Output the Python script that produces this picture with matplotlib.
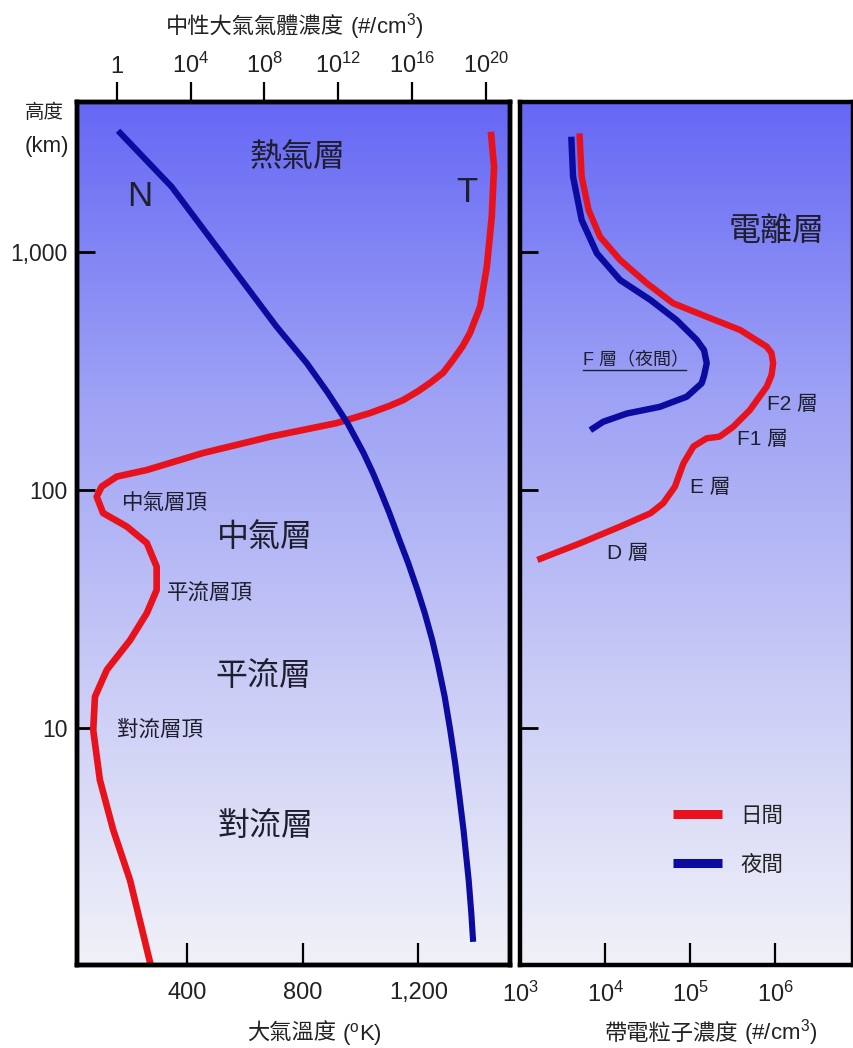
import numpy as np
import matplotlib
matplotlib.use("Agg")
import matplotlib.pyplot as plt
from matplotlib import font_manager
from matplotlib.colors import LinearSegmentedColormap
from matplotlib.ticker import NullLocator
from matplotlib.lines import Line2D

# ---------------------------------------------------------------- fonts
_names = {f.name for f in font_manager.fontManager.ttflist}
LATIN = "Liberation Sans Narrow" if "Liberation Sans Narrow" in _names else "Liberation Sans"
CJK = "Noto Sans CJK TC"
plt.rcParams["font.family"] = [LATIN, CJK, "DejaVu Sans"]
plt.rcParams["mathtext.fontset"] = "custom"
plt.rcParams["mathtext.rm"] = LATIN
plt.rcParams["mathtext.it"] = LATIN
plt.rcParams["mathtext.bf"] = LATIN
plt.rcParams["mathtext.default"] = "rm"

# ---------------------------------------------------------------- data
# atmospheric temperature profile (altitude km, temperature K)
temp_alt_km = [1.0, 2.29, 3.72, 6.03, 9.77, 13.5, 17.5, 23.3, 30.3, 37.9, 47.5,
               59.7, 70, 79.8, 93.5, 103, 113.5, 121, 142.6, 167, 190.6, 210,
               225, 238, 260, 281, 310, 351, 400, 456, 587, 865, 1403, 2270, 3190]
temp_K = [276, 204, 146, 100, 77, 83, 124, 204, 262, 296, 296,
          262, 193, 111, 89, 106, 158, 262, 456, 688, 918, 1033,
          1100, 1147, 1200, 1240, 1285, 1319, 1352, 1378, 1413, 1436, 1453, 1461, 1450]

# neutral gas number density (altitude km, #/cm^3)
dens_alt_km = [3222, 1871, 923, 484, 340, 255, 190.6, 142.6, 117, 96.8, 79.8,
               61.5, 49.2, 37.9, 30.3, 23.4, 18.7, 13.5, 9.77, 7.13, 5.12,
               3.72, 2.29, 1.67, 1.26]
dens_per_cm3 = [1.17, 9.55e2, 8.9e5, 4.6e8, 2.0e10, 2.8e11, 3.2e12, 2.4e13,
                7.9e13, 2.2e14, 6.0e14, 2.1e15, 6.3e15, 2.0e16, 5.0e16,
                1.26e17, 2.5e17, 6.0e17, 1.2e18, 2.2e18, 3.8e18, 6.3e18,
                1.2e19, 1.66e19, 2.1e19]

# ionospheric electron density, daytime
day_alt_km = [3141, 2065, 1496, 1156, 923, 736, 607, 533, 469, 399, 375, 340,
              303, 271, 216, 184, 167, 164.5, 152, 129, 103, 87.7, 79.6, 70,
              59.6, 50.7]
day_ne = [5.0e3, 5.3e3, 6.4e3, 8.7e3, 1.5e4, 3.1e4, 6.3e4, 1.56e5, 3.85e5,
          7.9e5, 9.0e5, 9.4e5, 9.0e5, 7.9e5, 5.0e5, 3.2e5, 2.2e5, 1.56e5,
          1.09e5, 8.3e4, 6.6e4, 4.8e4, 3.4e4, 1.5e4, 5.1e3, 1.6e3]

# ionospheric electron density, night-time
night_alt_km = [3042, 2065, 1359, 984, 760, 627, 516, 426, 386, 340, 301, 280,
                246, 223, 209, 193, 178]
night_ne = [4.0e3, 4.2e3, 5.3e3, 8.0e3, 1.5e4, 3.4e4, 6.9e4, 1.19e5, 1.45e5,
            1.56e5, 1.45e5, 1.36e5, 9.1e4, 4.4e4, 1.8e4, 9.5e3, 6.7e3]

alt_ticks = [10, 100, 1000]
alt_ticklabels = ["10", "100", "1,000"]
temp_ticks = [400, 800, 1200]
temp_ticklabels = ["400", "800", "1,200"]
dens_ticks = [1, 1e4, 1e8, 1e12, 1e16, 1e20]
dens_ticklabels = ["1"] + [r"$\mathdefault{10^{%d}}$" % p for p in (4, 8, 12, 16, 20)]
ne_ticks = [1e3, 1e4, 1e5, 1e6]
ne_ticklabels = [r"$\mathdefault{10^{%d}}$" % p for p in (3, 4, 5, 6)]

# ---------------------------------------------------------------- style
RED = "#E8121C"
BLUE = "#0B0BA0"
INK = "#1e1e2e"
TICK_INK = "#222222"
SPINE_W = 3.2

W, H = 854, 1048
fig = plt.figure(figsize=(W / 100, H / 100), dpi=100)


def rect(x0, x1, y0, y1):
    return [x0 / W, (H - y1) / H, (x1 - x0) / W, (y1 - y0) / H]


left_rect = rect(77, 510, 102, 965)
right_rect = rect(520, 853, 102, 965)

sky = LinearSegmentedColormap.from_list(
    "sky", ["#F0F1F8", "#C9CBF6", "#9DA1F4", "#6668F4"])
grad = np.linspace(0, 1, 256).reshape(-1, 1)
for r in (left_rect, right_rect):
    bg = fig.add_axes(r, zorder=0)
    bg.imshow(grad, cmap=sky, origin="lower", aspect="auto",
              extent=[0, 1, 0, 1], interpolation="bicubic")
    bg.set_axis_off()

ylim = (10 ** 0.003, 10 ** 3.629)

# ---------------------------------------------------------------- left panel
ax = fig.add_axes(left_rect, zorder=1)
ax.patch.set_visible(False)
ax.set_yscale("log")
ax.set_xlim(21, 1516)
ax.set_ylim(*ylim)
ax.plot(temp_K, temp_alt_km, color=RED, lw=4.8,
        solid_joinstyle="round", solid_capstyle="butt")

ax.set_yticks(alt_ticks, alt_ticklabels)
ax.yaxis.set_minor_locator(NullLocator())
ax.set_xticks(temp_ticks, temp_ticklabels)
ax.tick_params(axis="y", direction="in", length=13, width=2, pad=7,
               labelsize=16.5, colors="black", labelcolor=TICK_INK)
ax.tick_params(axis="x", direction="in", length=15.5, width=1.6, pad=12,
               labelsize=17, colors="black", labelcolor=TICK_INK)

ax_top = ax.twiny()
ax_top.set_xscale("log")
ax_top.set_xlim(10 ** -2.16, 10 ** 21.32)
ax_top.plot(dens_per_cm3, dens_alt_km, color=BLUE, lw=4.4,
            solid_joinstyle="round", solid_capstyle="butt")
ax_top.set_xticks(dens_ticks, dens_ticklabels)
ax_top.xaxis.set_minor_locator(NullLocator())
ax_top.tick_params(axis="x", direction="out", length=14.5, width=1.6, pad=3,
                   labelsize=17, colors="black", labelcolor=TICK_INK)

for a in (ax, ax_top):
    for s in a.spines.values():
        s.set_linewidth(SPINE_W)
        s.set_color("black")

ax.text(-0.12, 0.988, "高度", transform=ax.transAxes, ha="left", va="center",
        fontsize=14, color=TICK_INK)
ax.text(-0.12, 0.949, "(km)", transform=ax.transAxes, ha="left", va="center",
        fontsize=16, color=TICK_INK)

big = dict(fontsize=23, color=INK, ha="center", va="center")
small = dict(fontsize=15.5, color=INK, ha="left", va="center")
ax.text(784, 2478, "熱氣層", **big)
ax.text(671, 62.7, "中氣層", **big)
ax.text(663, 16.3, "平流層", **big)
ax.text(671, 3.82, "對流層", **big)
ax.text(176, 87.7, "中氣層頂", **small)
ax.text(332, 36.8, "平流層頂", **small)
ax.text(159, 9.77, "對流層頂", **small)
ax.text(239, 1698, "N", fontsize=25, color=INK, ha="center", va="center")
ax.text(1368, 1766, "T", fontsize=25, color=INK, ha="center", va="center")

# ---------------------------------------------------------------- right panel
axr = fig.add_axes(right_rect, zorder=1)
axr.patch.set_visible(False)
axr.set_xscale("log")
axr.set_yscale("log")
axr.set_xlim(1e3, 10 ** 6.911)
axr.set_ylim(*ylim)
axr.plot(day_ne, day_alt_km, color=RED, lw=4.6, label="日間",
         solid_joinstyle="round", solid_capstyle="butt")
axr.plot(night_ne, night_alt_km, color=BLUE, lw=4.6, label="夜間",
         solid_joinstyle="round", solid_capstyle="butt")

axr.set_yticks(alt_ticks, [""] * len(alt_ticks))
axr.yaxis.set_minor_locator(NullLocator())
axr.set_xticks(ne_ticks, ne_ticklabels)
axr.xaxis.set_minor_locator(NullLocator())
axr.tick_params(axis="y", direction="in", length=13, width=2, colors="black")
axr.tick_params(axis="x", direction="in", length=15.5, width=1.6, pad=12,
                labelsize=17, colors="black", labelcolor=TICK_INK)
for s in axr.spines.values():
    s.set_linewidth(SPINE_W)
    s.set_color("black")

axr.text(1.02e6, 1210, "電離層", **big)
f_night = axr.text(5.5e3, 348, "F 層（夜間）", fontsize=13, color=INK,
                   ha="left", va="center")
lay = dict(fontsize=15, color=INK, ha="left", va="center")
axr.text(7.96e5, 227, "F2 層", **lay)
axr.text(3.54e5, 162, "F1 層", **lay)
axr.text(9.96e4, 102.6, "E 層", **lay)
axr.text(1.06e4, 54, "D 層", **lay)

leg = axr.legend(loc="upper left", bbox_to_anchor=(0.401, 0.207), frameon=False,
                 fontsize=15.5, handlelength=2.3, handletextpad=0.85,
                 labelspacing=1.3)
for ln in leg.get_lines():
    ln.set_linewidth(6.5)
    ln.set_solid_capstyle("butt")
for t in leg.get_texts():
    t.set_color(TICK_INK)

# ---------------------------------------------------------------- axis titles
# each title is a CJK part followed by a Latin/mathtext unit part,
# both sitting on a common baseline
renderer = fig.canvas.get_renderer()


def axis_title(cx, base_y, cjk_part, unit_part, size=16):
    t1 = fig.text(0, 1 - base_y / H, cjk_part, fontsize=size, color=TICK_INK,
                  family=[CJK], ha="left", va="baseline")
    t2 = fig.text(0, 1 - base_y / H, unit_part, fontsize=size, color=TICK_INK,
                  ha="left", va="baseline")
    w1 = t1.get_window_extent(renderer).width
    w2 = t2.get_window_extent(renderer).width
    x0 = cx - (w1 + w2) / 2
    t1.set_x(x0 / W)
    t2.set_x((x0 + w1) / W)


axis_title(295, 34, "中性大氣氣體濃度", r" (#/cm$^3$)")
axis_title(314, 1040, "大氣溫度", r" ($^{\rm o}$K)")
axis_title(711, 1040, "帶電粒子濃度", r" (#/cm$^3$)")

# underline the night-time F layer caption
fig.canvas.draw()
bb = f_night.get_window_extent()
inv = fig.transFigure.inverted()
(ux0, uy), (ux1, _) = inv.transform([(bb.x0, bb.y0 - 1), (bb.x1 - 3, bb.y0 - 1)])
fig.add_artist(Line2D([ux0, ux1], [uy, uy], transform=fig.transFigure,
                      color=INK, lw=1.0))

fig.savefig("out.png", dpi=100, facecolor="white")
